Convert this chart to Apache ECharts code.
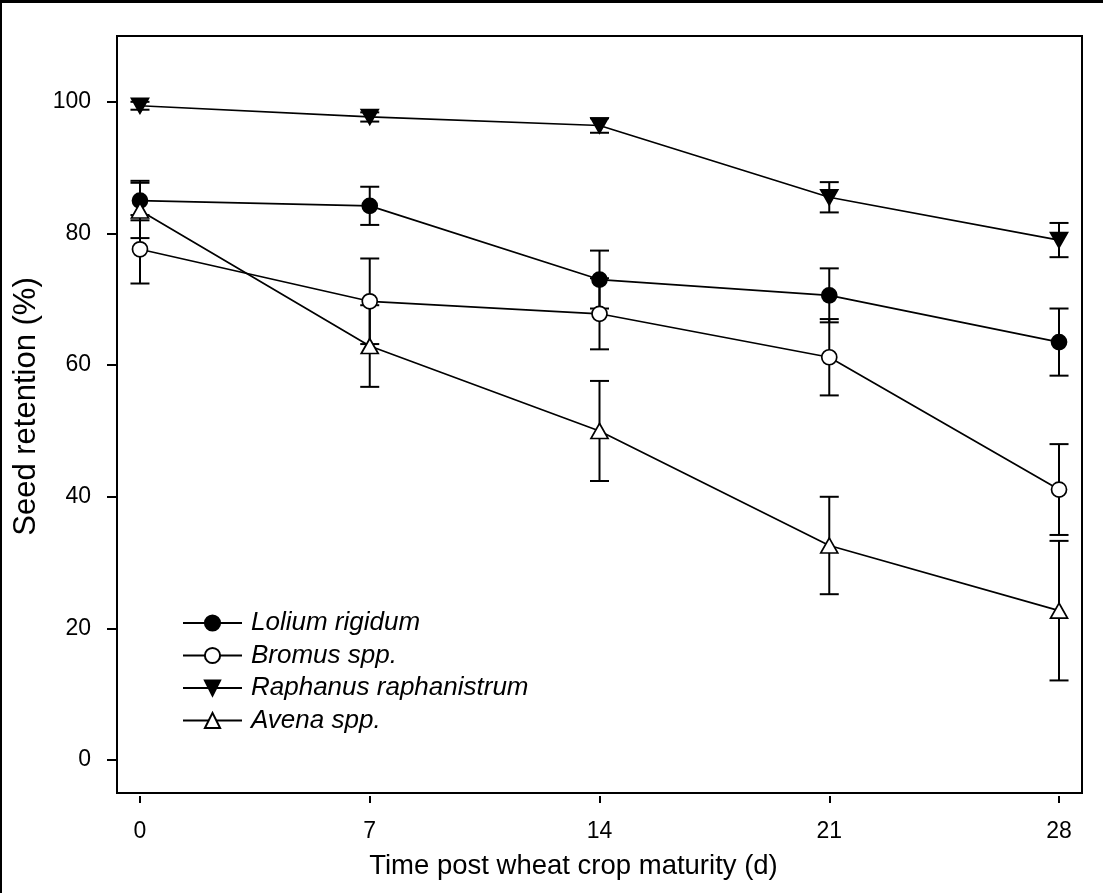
<!DOCTYPE html>
<html>
<head>
<meta charset="utf-8">
<script src="https://cdn.jsdelivr.net/npm/echarts@6/dist/echarts.min.js"></script>
<style>
html,body{margin:0;padding:0;background:#fff;}
#chart{width:1103px;height:893px;}
</style>
</head>
<body>
<div id="chart"></div>
<script>
// ---- data ----
var days = [0, 7, 14, 21, 28];
var xTicks = [0, 7, 14, 21, 28];
var yTicks = [0, 20, 40, 60, 80, 100];
var seriesNames = ['Lolium rigidum', 'Bromus spp.', 'Raphanus raphanistrum', 'Avena spp.'];
var lolium = [85.0, 84.2, 73.0, 70.6, 63.5];
var loliumErr = [3.0, 2.9, 4.4, 4.1, 5.1];
var bromus = [77.6, 69.7, 67.8, 61.2, 41.1];
var bromusErr = [5.2, 6.5, 5.4, 5.8, 6.9];
var raphanus = [99.4, 97.7, 96.4, 85.5, 79.0];
var raphanusErr = [0.6, 0.7, 1.1, 2.3, 2.6];
var avena = [83.5, 62.9, 50.0, 32.6, 22.7];
var avenaErr = [4.2, 6.2, 7.6, 7.4, 10.6];

var FONT = "'Liberation Sans', Arial, sans-serif";

function pairs(vals) { return days.map(function (d, i) { return [d, vals[i]]; }); }
function errData(vals, errs) { return days.map(function (d, i) { return [d, vals[i], errs[i]]; }); }

function errSeries(name, vals, errs) {
  return {
    type: 'custom',
    name: name + ' SE',
    z: 1,
    silent: true,
    data: errData(vals, errs),
    encode: { x: 0, y: 1 },
    renderItem: function (params, api) {
      var x = api.value(0), y = api.value(1), e = api.value(2);
      var top = api.coord([x, y + e]);
      var bot = api.coord([x, y - e]);
      var hw = 9.5;
      var st = { stroke: '#000', lineWidth: 2 };
      return {
        type: 'group',
        children: [
          { type: 'line', shape: { x1: top[0], y1: top[1], x2: bot[0], y2: bot[1] }, style: st },
          { type: 'line', shape: { x1: top[0] - hw, y1: top[1], x2: top[0] + hw, y2: top[1] }, style: st },
          { type: 'line', shape: { x1: bot[0] - hw, y1: bot[1], x2: bot[0] + hw, y2: bot[1] }, style: st }
        ]
      };
    }
  };
}

function lineSeries(name, vals, symbol, size, fill, rotate) {
  return {
    type: 'line',
    name: name,
    z: 3,
    data: pairs(vals),
    symbol: symbol,
    symbolSize: size,
    symbolRotate: rotate || 0,
    showAllSymbol: true,
    lineStyle: { color: '#000', width: 1.7 },
    itemStyle: { color: fill, borderColor: '#000', borderWidth: 1.7 },
    emphasis: { disabled: true },
    animation: false
  };
}

var chart = echarts.init(document.getElementById('chart'), null, { renderer: 'canvas' });
chart.setOption({
  animation: false,
  backgroundColor: '#fff',
  textStyle: { fontFamily: FONT, color: '#000' },
  graphic: [
    { type: 'rect', shape: { x: 0, y: 0, width: 1103, height: 3 }, style: { fill: '#000' }, silent: true },
    { type: 'rect', shape: { x: 0, y: 0, width: 2, height: 893 }, style: { fill: '#000' }, silent: true }
  ],
  grid: {
    left: 117, top: 36, right: 21, bottom: 100,
    show: true, borderColor: '#000', borderWidth: 2, backgroundColor: 'transparent',
    containLabel: false
  },
  legend: {
    orient: 'vertical',
    left: 177,
    top: 605,
    itemWidth: 59,
    itemHeight: 19,
    itemGap: 6.5,
    data: seriesNames,
    selectedMode: false,
    textStyle: { fontFamily: FONT, fontSize: 26, fontStyle: 'italic', color: '#000', padding: [0, 0, 0, 4] }
  },
  xAxis: {
    type: 'value',
    min: -0.7,
    max: 28.7,
    offset: 3,
    axisLine: { show: false, onZero: false },
    axisTick: { show: true, length: 7, customValues: xTicks, lineStyle: { color: '#000', width: 2 } },
    axisLabel: { customValues: xTicks, fontSize: 23, color: '#000', fontFamily: FONT, margin: 24 },
    splitLine: { show: false },
    name: 'Time post wheat crop maturity (d)',
    nameLocation: 'middle',
    nameGap: 56,
    nameTextStyle: { fontSize: 27.5, color: '#000', fontFamily: FONT, padding: [0, 52, 0, 0] }
  },
  yAxis: {
    type: 'value',
    min: -5,
    max: 110,
    axisLine: { show: true, onZero: false, lineStyle: { color: '#000', width: 2 } },
    axisTick: { show: true, length: 10, customValues: yTicks, lineStyle: { color: '#000', width: 2 } },
    axisLabel: { customValues: yTicks, fontSize: 23, color: '#000', fontFamily: FONT, margin: 26 },
    splitLine: { show: false },
    name: 'Seed retention (%)',
    nameLocation: 'middle',
    nameGap: 71,
    nameTextStyle: { fontSize: 31, color: '#000', fontFamily: FONT, padding: [0, 0, 0, 16] }
  },
  series: [
    errSeries(seriesNames[0], lolium, loliumErr),
    errSeries(seriesNames[1], bromus, bromusErr),
    errSeries(seriesNames[2], raphanus, raphanusErr),
    errSeries(seriesNames[3], avena, avenaErr),
    lineSeries(seriesNames[0], lolium, 'circle', 15, '#000'),
    lineSeries(seriesNames[1], bromus, 'circle', 15, '#fff'),
    lineSeries(seriesNames[2], raphanus, 'triangle', [17, 15], '#000', 180),
    lineSeries(seriesNames[3], avena, 'triangle', [17, 15], '#fff')
  ]
});
</script>
</body>
</html>
